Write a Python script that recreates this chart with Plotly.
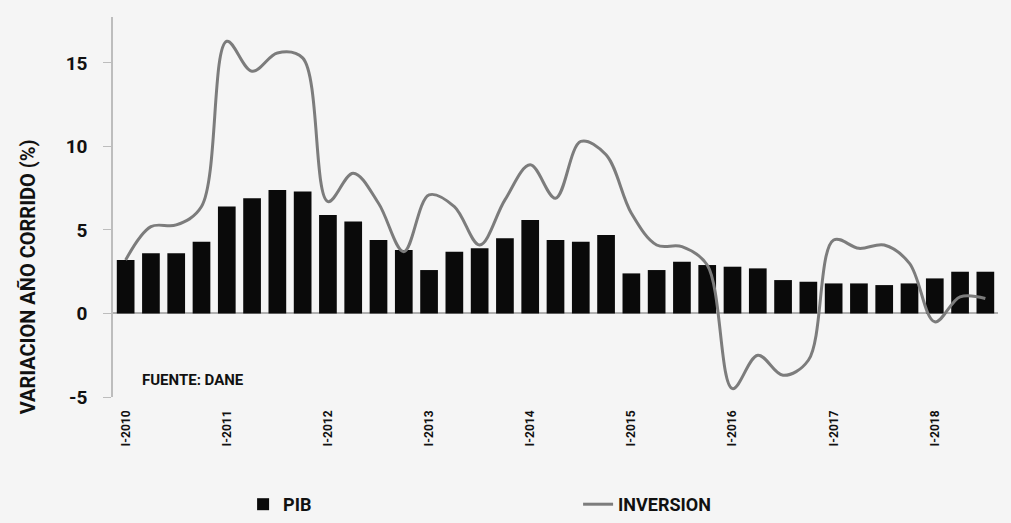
import plotly.graph_objects as go

quarters = [
    "I-2010", "II-2010", "III-2010", "IV-2010",
    "I-2011", "II-2011", "III-2011", "IV-2011",
    "I-2012", "II-2012", "III-2012", "IV-2012",
    "I-2013", "II-2013", "III-2013", "IV-2013",
    "I-2014", "II-2014", "III-2014", "IV-2014",
    "I-2015", "II-2015", "III-2015", "IV-2015",
    "I-2016", "II-2016", "III-2016", "IV-2016",
    "I-2017", "II-2017", "III-2017", "IV-2017",
    "I-2018", "II-2018", "III-2018",
]

pib = [3.2, 3.6, 3.6, 4.3, 6.4, 6.9, 7.4, 7.3,
       5.9, 5.5, 4.4, 3.8, 2.6, 3.7, 3.9, 4.5,
       5.6, 4.4, 4.3, 4.7, 2.4, 2.6, 3.1, 2.9,
       2.8, 2.7, 2.0, 1.9, 1.8, 1.8, 1.7, 1.8,
       2.1, 2.5, 2.5]

inversion = [3.2, 5.2, 5.3, 6.4, 16.3, 14.5, 15.6, 15.3,
             6.7, 8.4, 6.6, 3.7, 7.1, 6.4, 4.1, 6.8,
             8.9, 6.9, 10.3, 9.5, 6.0, 4.1, 4.0, 2.9,
             -4.5, -2.5, -3.7, -2.8, 4.4, 3.9, 4.1, 3.0,
             -0.5, 1.0, 0.9]

tick_labels = ["I-2010", "I-2011", "I-2012", "I-2013", "I-2014",
               "I-2015", "I-2016", "I-2017", "I-2018"]
y_ticks = [-5, 0, 5, 10, 15]

FONT = "Liberation Sans Narrow, Arial Narrow, Roboto, sans-serif"
BG = "#f5f5f5"

fig = go.Figure()
fig.add_trace(go.Bar(
    x=quarters, y=pib, name="<b>PIB</b>",
    marker=dict(color="#0a0a0a", line=dict(width=0)),
))
fig.add_trace(go.Scatter(
    x=quarters, y=inversion, name="<b>INVERSION</b>", mode="lines",
    line=dict(color="#7c7c7c", width=3, shape="spline", smoothing=1.0),
))

fig.update_layout(
    width=1011, height=523,
    margin=dict(l=113, r=13, t=17, b=126, autoexpand=False),
    paper_bgcolor=BG, plot_bgcolor=BG,
    bargap=0.3,
    showlegend=True,
    legend=dict(
        orientation="h", x=0.147, xanchor="left",
        yref="container", y=-0.014, yanchor="bottom",
        font=dict(family=FONT, size=18, color="#111111"),
        entrywidth=290, entrywidthmode="pixels",
        bgcolor="rgba(0,0,0,0)", borderwidth=0,
    ),
    font=dict(family=FONT, color="#111111"),
)

fig.update_xaxes(
    type="category",
    tickmode="array", tickvals=tick_labels, ticktext=["<b>%s</b>" % t for t in tick_labels],
    tickangle=-90, tickfont=dict(size=12, family=FONT, color="#111111"),
    ticklabelstandoff=10,
    showgrid=False, showline=False, ticks="", zeroline=False,
    range=[-0.5, len(quarters) - 0.5],
)
fig.update_yaxes(
    range=[-5, 17.75],
    tickmode="array", tickvals=y_ticks, ticktext=["<b>%d</b>" % v for v in y_ticks],
    tickfont=dict(size=19, family=FONT, color="#111111"),
    ticklabelstandoff=12,
    showgrid=False, showline=True, linecolor="#bdbdbd", linewidth=1.5,
    ticks="outside", ticklen=8, tickcolor="#bdbdbd",
    zeroline=True, zerolinecolor="#b0b0b0", zerolinewidth=2,
)

fig.add_annotation(
    text="<b>VARIACION AÑO CORRIDO (%)</b>", textangle=-90,
    xref="paper", yref="paper", x=-0.096, y=0.315, xanchor="center", yanchor="middle",
    showarrow=False, font=dict(size=20, family=FONT, color="#111111"),
)
fig.add_annotation(
    text="<b>FUENTE: DANE</b>",
    xref="paper", yref="y", x=0.03, y=-4.0, xanchor="left", yanchor="middle",
    showarrow=False, font=dict(size=15, family=FONT, color="#111111"),
)

fig.write_html(
    "out.html",
    config={"displayModeBar": False},
    post_script="document.body.style.margin='0';document.body.style.background='%s';" % BG,
)
